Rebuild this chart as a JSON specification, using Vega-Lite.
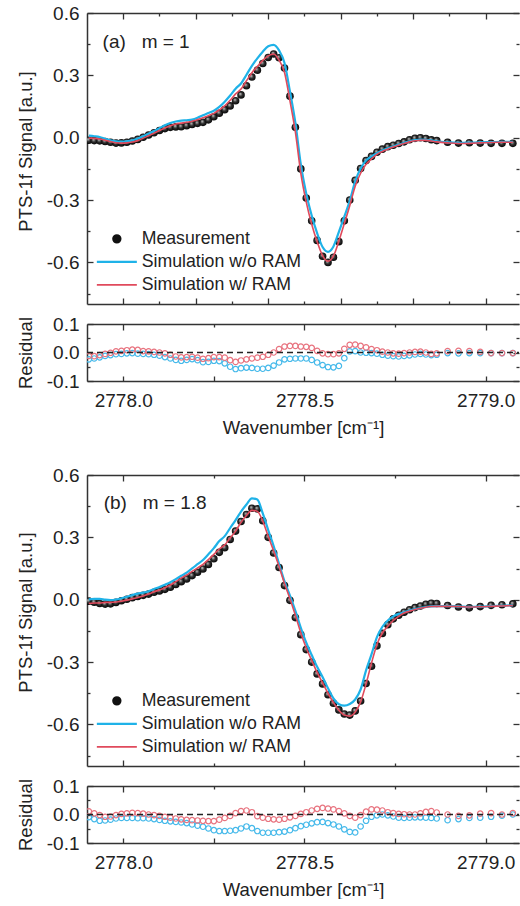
{
"$schema": "https://vega.github.io/schema/vega-lite/v6.json",
"padding": {"left": 16, "top": 4, "right": 0, "bottom": 0},
"config": {
 "view": {"stroke": null},
 "font": "Liberation Sans",
 "axis": {"labelFont": "Liberation Sans", "labelFontSize": 19, "labelColor": "#222222", "titleFont": "Liberation Sans", "titleFontSize": 18.5, "titleFontWeight": "normal", "titleColor": "#222222", "domainColor": "#333333", "domainWidth": 1.5, "tickColor": "#333333", "tickWidth": 1.3, "grid": false, "labelOverlap": false, "labelFlush": false, "labelBound": false},
 "axisX": {"labelPadding": 15, "titlePadding": 8, "labelFlush": false},
 "axisY": {"labelPadding": 14, "titlePadding": 11}
},
"datasets": {
"a": [
{"x":2777.905,"m":-0.012,"wo":0.010,"w":-0.002,"rwo":-0.024,"rw":-0.012},
{"x":2777.92,"m":-0.014,"wo":0.007,"w":-0.003,"rwo":-0.021,"rw":-0.013},
{"x":2777.935,"m":-0.015,"wo":0.003,"w":-0.006,"rwo":-0.017,"rw":-0.009},
{"x":2777.95,"m":-0.018,"wo":-0.005,"w":-0.012,"rwo":-0.012,"rw":-0.005},
{"x":2777.965,"m":-0.022,"wo":-0.012,"w":-0.018,"rwo":-0.009,"rw":-0.001},
{"x":2777.98,"m":-0.026,"wo":-0.018,"w":-0.024,"rwo":-0.006,"rw":0.004},
{"x":2777.995,"m":-0.025,"wo":-0.019,"w":-0.026,"rwo":-0.005,"rw":0.006},
{"x":2778.01,"m":-0.022,"wo":-0.017,"w":-0.025,"rwo":-0.003,"rw":0.008},
{"x":2778.025,"m":-0.016,"wo":-0.013,"w":-0.021,"rwo":-0.002,"rw":0.010},
{"x":2778.04,"m":-0.008,"wo":-0.004,"w":-0.014,"rwo":-0.004,"rw":0.009},
{"x":2778.055,"m":0.002,"wo":0.007,"w":-0.002,"rwo":-0.005,"rw":0.005},
{"x":2778.07,"m":0.013,"wo":0.019,"w":0.009,"rwo":-0.006,"rw":0.004},
{"x":2778.085,"m":0.024,"wo":0.032,"w":0.022,"rwo":-0.008,"rw":0.002},
{"x":2778.1,"m":0.035,"wo":0.046,"w":0.035,"rwo":-0.011,"rw":0.0},
{"x":2778.115,"m":0.044,"wo":0.06,"w":0.047,"rwo":-0.016,"rw":-0.003},
{"x":2778.13,"m":0.05,"wo":0.071,"w":0.058,"rwo":-0.021,"rw":-0.008},
{"x":2778.145,"m":0.052,"wo":0.078,"w":0.066,"rwo":-0.026,"rw":-0.014},
{"x":2778.16,"m":0.053,"wo":0.082,"w":0.07,"rwo":-0.029,"rw":-0.017},
{"x":2778.175,"m":0.058,"wo":0.084,"w":0.074,"rwo":-0.026,"rw":-0.016},
{"x":2778.19,"m":0.064,"wo":0.087,"w":0.079,"rwo":-0.023,"rw":-0.015},
{"x":2778.205,"m":0.069,"wo":0.096,"w":0.087,"rwo":-0.027,"rw":-0.018},
{"x":2778.22,"m":0.074,"wo":0.108,"w":0.096,"rwo":-0.034,"rw":-0.022},
{"x":2778.235,"m":0.086,"wo":0.119,"w":0.106,"rwo":-0.033,"rw":-0.02},
{"x":2778.25,"m":0.101,"wo":0.13,"w":0.117,"rwo":-0.029,"rw":-0.016},
{"x":2778.265,"m":0.118,"wo":0.148,"w":0.134,"rwo":-0.03,"rw":-0.016},
{"x":2778.28,"m":0.135,"wo":0.173,"w":0.153,"rwo":-0.038,"rw":-0.018},
{"x":2778.295,"m":0.153,"wo":0.203,"w":0.18,"rwo":-0.05,"rw":-0.027},
{"x":2778.31,"m":0.178,"wo":0.236,"w":0.211,"rwo":-0.058,"rw":-0.033},
{"x":2778.325,"m":0.206,"wo":0.261,"w":0.234,"rwo":-0.055,"rw":-0.028},
{"x":2778.34,"m":0.25,"wo":0.303,"w":0.274,"rwo":-0.053,"rw":-0.024},
{"x":2778.355,"m":0.292,"wo":0.346,"w":0.313,"rwo":-0.054,"rw":-0.021},
{"x":2778.37,"m":0.325,"wo":0.382,"w":0.343,"rwo":-0.057,"rw":-0.018},
{"x":2778.385,"m":0.357,"wo":0.414,"w":0.372,"rwo":-0.057,"rw":-0.015},
{"x":2778.4,"m":0.386,"wo":0.44,"w":0.394,"rwo":-0.054,"rw":-0.008},
{"x":2778.415,"m":0.403,"wo":0.447,"w":0.403,"rwo":-0.046,"rw":0.0},
{"x":2778.43,"m":0.385,"wo":0.42,"w":0.373,"rwo":-0.035,"rw":0.012},
{"x":2778.445,"m":0.335,"wo":0.359,"w":0.314,"rwo":-0.024,"rw":0.021},
{"x":2778.46,"m":0.2,"wo":0.222,"w":0.177,"rwo":-0.022,"rw":0.023},
{"x":2778.475,"m":0.05,"wo":0.071,"w":0.027,"rwo":-0.021,"rw":0.023},
{"x":2778.49,"m":-0.15,"wo":-0.129,"w":-0.171,"rwo":-0.021,"rw":0.021},
{"x":2778.505,"m":-0.29,"wo":-0.269,"w":-0.31,"rwo":-0.021,"rw":0.02},
{"x":2778.52,"m":-0.4,"wo":-0.374,"w":-0.416,"rwo":-0.026,"rw":0.016},
{"x":2778.535,"m":-0.494,"wo":-0.459,"w":-0.5,"rwo":-0.035,"rw":0.006},
{"x":2778.55,"m":-0.57,"wo":-0.526,"w":-0.567,"rwo":-0.044,"rw":-0.003},
{"x":2778.565,"m":-0.6,"wo":-0.549,"w":-0.594,"rwo":-0.051,"rw":-0.006},
{"x":2778.58,"m":-0.575,"wo":-0.523,"w":-0.569,"rwo":-0.052,"rw":-0.006},
{"x":2778.595,"m":-0.5,"wo":-0.453,"w":-0.497,"rwo":-0.047,"rw":-0.003},
{"x":2778.61,"m":-0.4,"wo":-0.38,"w":-0.413,"rwo":-0.02,"rw":0.013},
{"x":2778.625,"m":-0.3,"wo":-0.304,"w":-0.327,"rwo":0.004,"rw":0.027},
{"x":2778.64,"m":-0.205,"wo":-0.21,"w":-0.233,"rwo":0.005,"rw":0.028},
{"x":2778.655,"m":-0.148,"wo":-0.148,"w":-0.171,"rwo":0.0,"rw":0.023},
{"x":2778.67,"m":-0.11,"wo":-0.109,"w":-0.128,"rwo":-0.001,"rw":0.018},
{"x":2778.685,"m":-0.09,"wo":-0.09,"w":-0.102,"rwo":-0.002,"rw":0.012},
{"x":2778.7,"m":-0.07,"wo":-0.075,"w":-0.08,"rwo":-0.004,"rw":0.008},
{"x":2778.715,"m":-0.055,"wo":-0.062,"w":-0.066,"rwo":-0.008,"rw":0.003},
{"x":2778.73,"m":-0.043,"wo":-0.051,"w":-0.055,"rwo":-0.011,"rw":0.0},
{"x":2778.745,"m":-0.036,"wo":-0.042,"w":-0.045,"rwo":-0.013,"rw":-0.003},
{"x":2778.76,"m":-0.028,"wo":-0.033,"w":-0.036,"rwo":-0.014,"rw":-0.004},
{"x":2778.775,"m":-0.02,"wo":-0.025,"w":-0.028,"rwo":-0.012,"rw":-0.002},
{"x":2778.79,"m":-0.01,"wo":-0.017,"w":-0.02,"rwo":-0.01,"rw":0.0},
{"x":2778.805,"m":-0.003,"wo":-0.012,"w":-0.015,"rwo":-0.007,"rw":0.002},
{"x":2778.82,"m":0.0,"wo":-0.009,"w":-0.012,"rwo":-0.005,"rw":0.003},
{"x":2778.835,"m":-0.004,"wo":-0.01,"w":-0.013,"rwo":-0.007,"rw":0.0},
{"x":2778.85,"m":-0.01,"wo":-0.013,"w":-0.016,"rwo":-0.009,"rw":-0.005},
{"x":2778.865,"m":-0.014,"wo":-0.017,"w":-0.02,"rwo":-0.008,"rw":-0.003},
{"x":2778.895,"m":-0.022,"wo":-0.022,"w":-0.025,"rwo":-0.002,"rw":0.005},
{"x":2778.925,"m":-0.026,"wo":-0.025,"w":-0.028,"rwo":-0.003,"rw":0.006},
{"x":2778.955,"m":-0.024,"wo":-0.024,"w":-0.027,"rwo":-0.002,"rw":0.005},
{"x":2778.985,"m":-0.026,"wo":-0.022,"w":-0.025,"rwo":-0.002,"rw":0.002},
{"x":2779.015,"m":-0.027,"wo":-0.021,"w":-0.023,"rwo":-0.002,"rw":-0.002},
{"x":2779.045,"m":-0.027,"wo":-0.02,"w":-0.022,"rwo":-0.002,"rw":-0.002},
{"x":2779.075,"m":-0.027,"wo":-0.02,"w":-0.022,"rwo":-0.002,"rw":-0.002}
],
"b": [
{"x":2777.905,"m":-0.007,"wo":0.002,"w":-0.018,"rwo":-0.009,"rw":0.011},
{"x":2777.92,"m":-0.012,"wo":0.004,"w":-0.016,"rwo":-0.016,"rw":0.004},
{"x":2777.935,"m":-0.018,"wo":0.004,"w":-0.016,"rwo":-0.022,"rw":-0.002},
{"x":2777.95,"m":-0.021,"wo":0.0,"w":-0.013,"rwo":-0.021,"rw":-0.008},
{"x":2777.965,"m":-0.02,"wo":-0.002,"w":-0.013,"rwo":-0.018,"rw":-0.007},
{"x":2777.98,"m":-0.013,"wo":0.001,"w":-0.011,"rwo":-0.014,"rw":-0.002},
{"x":2777.995,"m":-0.005,"wo":0.007,"w":-0.007,"rwo":-0.012,"rw":0.002},
{"x":2778.01,"m":0.002,"wo":0.014,"w":-0.002,"rwo":-0.012,"rw":0.004},
{"x":2778.025,"m":0.01,"wo":0.022,"w":0.004,"rwo":-0.012,"rw":0.006},
{"x":2778.04,"m":0.016,"wo":0.029,"w":0.011,"rwo":-0.013,"rw":0.005},
{"x":2778.055,"m":0.021,"wo":0.034,"w":0.018,"rwo":-0.013,"rw":0.003},
{"x":2778.07,"m":0.027,"wo":0.041,"w":0.027,"rwo":-0.014,"rw":0.0},
{"x":2778.085,"m":0.036,"wo":0.052,"w":0.038,"rwo":-0.016,"rw":-0.002},
{"x":2778.1,"m":0.042,"wo":0.061,"w":0.047,"rwo":-0.019,"rw":-0.005},
{"x":2778.115,"m":0.05,"wo":0.072,"w":0.058,"rwo":-0.022,"rw":-0.008},
{"x":2778.13,"m":0.06,"wo":0.084,"w":0.071,"rwo":-0.024,"rw":-0.011},
{"x":2778.145,"m":0.073,"wo":0.099,"w":0.087,"rwo":-0.026,"rw":-0.014},
{"x":2778.16,"m":0.087,"wo":0.115,"w":0.104,"rwo":-0.028,"rw":-0.017},
{"x":2778.175,"m":0.1,"wo":0.13,"w":0.119,"rwo":-0.03,"rw":-0.019},
{"x":2778.19,"m":0.116,"wo":0.151,"w":0.136,"rwo":-0.035,"rw":-0.02},
{"x":2778.205,"m":0.132,"wo":0.171,"w":0.153,"rwo":-0.039,"rw":-0.021},
{"x":2778.22,"m":0.148,"wo":0.191,"w":0.17,"rwo":-0.043,"rw":-0.022},
{"x":2778.235,"m":0.17,"wo":0.219,"w":0.193,"rwo":-0.049,"rw":-0.023},
{"x":2778.25,"m":0.197,"wo":0.248,"w":0.218,"rwo":-0.055,"rw":-0.023},
{"x":2778.265,"m":0.228,"wo":0.282,"w":0.244,"rwo":-0.058,"rw":-0.018},
{"x":2778.28,"m":0.25,"wo":0.306,"w":0.264,"rwo":-0.058,"rw":-0.012},
{"x":2778.295,"m":0.29,"wo":0.345,"w":0.297,"rwo":-0.057,"rw":-0.005},
{"x":2778.31,"m":0.33,"wo":0.383,"w":0.33,"rwo":-0.055,"rw":0.005},
{"x":2778.325,"m":0.376,"wo":0.424,"w":0.372,"rwo":-0.049,"rw":0.012},
{"x":2778.34,"m":0.41,"wo":0.458,"w":0.405,"rwo":-0.042,"rw":0.014},
{"x":2778.355,"m":0.44,"wo":0.488,"w":0.43,"rwo":-0.048,"rw":0.008},
{"x":2778.37,"m":0.437,"wo":0.482,"w":0.425,"rwo":-0.058,"rw":-0.006},
{"x":2778.385,"m":0.38,"wo":0.415,"w":0.378,"rwo":-0.064,"rw":-0.011},
{"x":2778.4,"m":0.3,"wo":0.335,"w":0.305,"rwo":-0.064,"rw":-0.015},
{"x":2778.415,"m":0.225,"wo":0.258,"w":0.235,"rwo":-0.064,"rw":-0.017},
{"x":2778.43,"m":0.155,"wo":0.172,"w":0.16,"rwo":-0.062,"rw":-0.018},
{"x":2778.445,"m":0.068,"wo":0.088,"w":0.078,"rwo":-0.06,"rw":-0.015},
{"x":2778.46,"m":-0.003,"wo":0.02,"w":0.005,"rwo":-0.055,"rw":-0.01},
{"x":2778.475,"m":-0.086,"wo":-0.054,"w":-0.075,"rwo":-0.048,"rw":-0.005},
{"x":2778.49,"m":-0.168,"wo":-0.135,"w":-0.16,"rwo":-0.041,"rw":0.002},
{"x":2778.505,"m":-0.24,"wo":-0.207,"w":-0.232,"rwo":-0.036,"rw":0.008},
{"x":2778.52,"m":-0.3,"wo":-0.266,"w":-0.292,"rwo":-0.031,"rw":0.014},
{"x":2778.535,"m":-0.357,"wo":-0.323,"w":-0.35,"rwo":-0.027,"rw":0.02},
{"x":2778.55,"m":-0.405,"wo":-0.372,"w":-0.4,"rwo":-0.026,"rw":0.023},
{"x":2778.565,"m":-0.457,"wo":-0.426,"w":-0.45,"rwo":-0.03,"rw":0.021},
{"x":2778.58,"m":-0.498,"wo":-0.475,"w":-0.495,"rwo":-0.035,"rw":0.018},
{"x":2778.595,"m":-0.53,"wo":-0.503,"w":-0.532,"rwo":-0.042,"rw":0.012},
{"x":2778.61,"m":-0.55,"wo":-0.51,"w":-0.555,"rwo":-0.052,"rw":0.004},
{"x":2778.625,"m":-0.555,"wo":-0.502,"w":-0.56,"rwo":-0.061,"rw":-0.005},
{"x":2778.64,"m":-0.535,"wo":-0.48,"w":-0.54,"rwo":-0.063,"rw":-0.011},
{"x":2778.655,"m":-0.487,"wo":-0.432,"w":-0.492,"rwo":-0.042,"rw":-0.002},
{"x":2778.67,"m":-0.403,"wo":-0.34,"w":-0.405,"rwo":-0.022,"rw":0.01},
{"x":2778.685,"m":-0.32,"wo":-0.263,"w":-0.305,"rwo":-0.008,"rw":0.018},
{"x":2778.7,"m":-0.222,"wo":-0.18,"w":-0.215,"rwo":-0.003,"rw":0.017},
{"x":2778.715,"m":-0.162,"wo":-0.13,"w":-0.16,"rwo":0.0,"rw":0.014},
{"x":2778.73,"m":-0.12,"wo":-0.1,"w":-0.128,"rwo":-0.003,"rw":0.008},
{"x":2778.745,"m":-0.092,"wo":-0.08,"w":-0.1,"rwo":-0.007,"rw":0.005},
{"x":2778.76,"m":-0.075,"wo":-0.068,"w":-0.08,"rwo":-0.011,"rw":0.002},
{"x":2778.775,"m":-0.06,"wo":-0.06,"w":-0.064,"rwo":-0.012,"rw":0.001},
{"x":2778.79,"m":-0.048,"wo":-0.052,"w":-0.055,"rwo":-0.011,"rw":0.0},
{"x":2778.805,"m":-0.038,"wo":-0.045,"w":-0.047,"rwo":-0.01,"rw":0.0},
{"x":2778.82,"m":-0.03,"wo":-0.04,"w":-0.041,"rwo":-0.01,"rw":0.004},
{"x":2778.835,"m":-0.022,"wo":-0.035,"w":-0.036,"rwo":-0.011,"rw":0.009},
{"x":2778.85,"m":-0.017,"wo":-0.032,"w":-0.033,"rwo":-0.012,"rw":0.012},
{"x":2778.865,"m":-0.018,"wo":-0.031,"w":-0.032,"rwo":-0.014,"rw":0.007},
{"x":2778.895,"m":-0.028,"wo":-0.031,"w":-0.032,"rwo":-0.02,"rw":0.0},
{"x":2778.925,"m":-0.035,"wo":-0.032,"w":-0.033,"rwo":-0.016,"rw":-0.005},
{"x":2778.955,"m":-0.039,"wo":-0.034,"w":-0.035,"rwo":-0.012,"rw":-0.003},
{"x":2778.985,"m":-0.033,"wo":-0.033,"w":-0.034,"rwo":-0.011,"rw":0.003},
{"x":2779.015,"m":-0.027,"wo":-0.031,"w":-0.032,"rwo":-0.008,"rw":0.005},
{"x":2779.045,"m":-0.024,"wo":-0.029,"w":-0.03,"rwo":-0.004,"rw":0.0},
{"x":2779.075,"m":-0.02,"wo":-0.027,"w":-0.028,"rwo":0.0,"rw":0.005}
]
},
"spacing": 29,
"resolve": {"scale": {"color": "independent", "stroke": "independent"}, "legend": {"color": "independent"}},
"vconcat": [
{
 "spacing": 20, "bounds": "flush",
 "resolve": {"scale": {"color": "independent", "stroke": "independent"}, "legend": {"color": "independent"}},
 "vconcat": [
 {
  "width": 432, "height": 291,
  "data": {"name": "a"},
  "layer": [
   {"mark": {"type": "point", "filled": true, "size": 58, "opacity": 1, "strokeWidth": 0, "clip": true,
      "fill": {"gradient": "radial", "x1": 0.38, "y1": 0.35, "r1": 0, "x2": 0.5, "y2": 0.5, "r2": 0.55, "stops": [{"offset": 0, "color": "#d8d8d8"}, {"offset": 0.45, "color": "#333333"}, {"offset": 1, "color": "#000000"}]}},
    "encoding": {
     "x": {"field": "x", "type": "quantitative", "scale": {"domain": [2777.9, 2779.092], "nice": false, "zero": false},
       "axis": {"orient": "bottom", "values": [2778.0, 2778.1, 2778.2, 2778.3, 2778.4, 2778.5, 2778.6, 2778.7, 2778.8, 2778.9, 2779.0], "labels": false, "title": null, "tickSize": {"condition": {"test": "round(datum.value*10) % 2 == 0", "value": -6}, "value": -3}}},
     "y": {"field": "m", "type": "quantitative", "scale": {"domain": [-0.8, 0.6], "nice": false, "zero": false},
       "axis": {"orient": "left", "values": [-0.75, -0.6, -0.45, -0.3, -0.15, 0, 0.15, 0.3, 0.45, 0.6], "title": "PTS-1f Signal [a.u.]", "titleY": 138, "labelExpr": "round(datum.value/0.15) % 2 == 0 ? replace(format(datum.value, '.1f'), '\u2212', '-') : ''", "tickSize": {"condition": {"test": "round(datum.value/0.15) % 2 == 0", "value": -6}, "value": -3}}}
    }},
   {"transform": [{"fold": ["wo"], "as": ["series", "val"]}],
    "mark": {"type": "line", "strokeWidth": 2.2, "clip": true, "interpolate": "monotone"},
    "encoding": {
     "x": {"field": "x", "type": "quantitative",
       "axis": {"orient": "top", "values": [2778.0, 2778.1, 2778.2, 2778.3, 2778.4, 2778.5, 2778.6, 2778.7, 2778.8, 2778.9, 2779.0], "labels": false, "title": null, "tickSize": {"condition": {"test": "round(datum.value*10) % 2 == 0", "value": -6}, "value": -3}}},
     "y": {"field": "val", "type": "quantitative",
       "axis": {"orient": "right", "domain": false, "labels": false, "title": null, "values": [-0.75, -0.6, -0.45, -0.3, -0.15, 0, 0.15, 0.3, 0.45, 0.6], "tickSize": {"condition": {"test": "round(datum.value/0.15) % 2 == 0", "value": -6}, "value": -3}}},
     "color": {"field": "series", "type": "nominal",
       "scale": {"domain": ["meas", "wo", "w"], "range": ["#111111", "#1fb2e8", "#e04a5c"]},
       "legend": {"orient": "bottom-left", "offset": 10, "padding": 0, "title": null,
         "labelExpr": "datum.label == 'meas' ? 'Measurement' : datum.label == 'wo' ? 'Simulation w/o RAM' : 'Simulation w/ RAM'",
         "labelFont": "Liberation Sans", "labelFontSize": 17.7, "labelColor": "#222222", "labelOffset": 16, "labelLimit": 0, "symbolOffset": 11,
         "symbolType": "stroke", "symbolSize": 1600, "symbolStrokeWidth": 2, "rowPadding": 4,
         "encode": {"symbols": {"update": {
           "shape": {"signal": "datum.value === 'meas' ? 'circle' : 'stroke'"},
           "size": {"signal": "datum.value === 'meas' ? 60 : 1600"},
           "fill": {"signal": "datum.value === 'meas' ? '#111111' : 'transparent'"},
           "stroke": {"signal": "datum.value === 'meas' ? 'transparent' : (datum.value === 'wo' ? '#1fb2e8' : '#e04a5c')"},
           "strokeWidth": {"signal": "datum.value === 'wo' ? 2.2 : 1.6"}
         }}}}}
    }},
   {"transform": [{"fold": ["w"], "as": ["series", "val"]}],
    "mark": {"type": "line", "strokeWidth": 1.6, "clip": true, "interpolate": "monotone"},
    "encoding": {
     "x": {"field": "x", "type": "quantitative", "axis": null},
     "y": {"field": "val", "type": "quantitative", "axis": null},
     "color": {"field": "series", "type": "nominal"}
    }},
   {"data": {"values": [{}]},
    "mark": {"type": "text", "align": "left", "baseline": "middle", "font": "Liberation Sans", "fontSize": 19, "color": "#222222"},
    "encoding": {
     "x": {"datum": 2777.943, "type": "quantitative", "axis": null},
     "y": {"datum": 0.462, "type": "quantitative", "axis": null},
     "text": {"value": "(a)\u00a0\u00a0 m = 1"}
    }}
  ],
  "resolve": {"axis": {"x": "independent", "y": "independent"}}
 },
 {
  "width": 432, "height": 57,
  "data": {"name": "a"},
  "layer": [
   {"transform": [{"fold": ["rwo", "rw"], "as": ["series", "val"]}],
    "mark": {"type": "point", "filled": false, "size": 30, "strokeWidth": 1.2, "opacity": 1, "clip": true},
    "encoding": {
     "x": {"field": "x", "type": "quantitative", "scale": {"domain": [2777.9, 2779.092], "nice": false, "zero": false},
       "axis": {"orient": "bottom", "values": [2778.0, 2778.25, 2778.5, 2778.75, 2779.0], "title": "Wavenumber [cm\u207b\u00b9]", "tickSize": -5, "labelFlush": false, "labelExpr": "round(datum.value*4) % 2 == 0 ? format(datum.value, '.1f') : ''"}},
     "y": {"field": "val", "type": "quantitative", "scale": {"domain": [-0.1, 0.1], "nice": false, "zero": false},
       "axis": {"orient": "left", "values": [-0.1, -0.05, 0, 0.05, 0.1], "title": "Residual", "labelExpr": "round(datum.value/0.05) % 2 == 0 ? replace(format(datum.value, '.1f'), '\u2212', '-') : ''", "tickSize": {"condition": {"test": "round(datum.value/0.05) % 2 == 0", "value": -6}, "value": -3}}},
     "stroke": {"field": "series", "type": "nominal", "scale": {"domain": ["rwo", "rw"], "range": ["#45b9ea", "#e8737f"]}, "legend": null},
     "order": {"field": "series", "sort": "descending"}
    }},
   {"data": {"values": [{}]},
    "mark": {"type": "rule", "strokeDash": [6, 4], "color": "#222222", "strokeWidth": 1.3},
    "encoding": {
     "x": {"datum": 2777.9, "type": "quantitative",
       "axis": {"orient": "top", "values": [2778.0, 2778.25, 2778.5, 2778.75, 2779.0], "labels": false, "title": null, "tickSize": {"condition": {"test": "round(datum.value*4) % 2 == 0", "value": -6}, "value": -3}}},
     "x2": {"datum": 2779.092},
     "y": {"datum": 0, "type": "quantitative",
       "axis": {"orient": "right", "domain": false, "labels": false, "title": null, "values": [-0.1, -0.05, 0, 0.05, 0.1], "tickSize": {"condition": {"test": "round(datum.value/0.05) % 2 == 0", "value": -6}, "value": -3}}}
    }}
  ],
  "resolve": {"axis": {"x": "independent", "y": "independent"}}
 }
 ]
},
{
 "spacing": 20, "bounds": "flush",
 "resolve": {"scale": {"color": "independent", "stroke": "independent"}, "legend": {"color": "independent"}},
 "vconcat": [
 {
  "width": 432, "height": 291,
  "data": {"name": "b"},
  "layer": [
   {"mark": {"type": "point", "filled": true, "size": 58, "opacity": 1, "strokeWidth": 0, "clip": true,
      "fill": {"gradient": "radial", "x1": 0.38, "y1": 0.35, "r1": 0, "x2": 0.5, "y2": 0.5, "r2": 0.55, "stops": [{"offset": 0, "color": "#d8d8d8"}, {"offset": 0.45, "color": "#333333"}, {"offset": 1, "color": "#000000"}]}},
    "encoding": {
     "x": {"field": "x", "type": "quantitative", "scale": {"domain": [2777.9, 2779.092], "nice": false, "zero": false},
       "axis": {"orient": "bottom", "values": [2778.0, 2778.25, 2778.5, 2778.75, 2779.0], "labels": false, "title": null, "tickSize": {"condition": {"test": "round(datum.value*4) % 2 == 0", "value": -6}, "value": -3}}},
     "y": {"field": "m", "type": "quantitative", "scale": {"domain": [-0.8, 0.6], "nice": false, "zero": false},
       "axis": {"orient": "left", "values": [-0.75, -0.6, -0.45, -0.3, -0.15, 0, 0.15, 0.3, 0.45, 0.6], "title": "PTS-1f Signal [a.u.]", "titleY": 137, "labelExpr": "round(datum.value/0.15) % 2 == 0 ? replace(format(datum.value, '.1f'), '\u2212', '-') : ''", "tickSize": {"condition": {"test": "round(datum.value/0.15) % 2 == 0", "value": -6}, "value": -3}}}
    }},
   {"transform": [{"fold": ["wo"], "as": ["series", "val"]}],
    "mark": {"type": "line", "strokeWidth": 2.2, "clip": true, "interpolate": "monotone"},
    "encoding": {
     "x": {"field": "x", "type": "quantitative",
       "axis": {"orient": "top", "values": [2778.0, 2778.25, 2778.5, 2778.75, 2779.0], "labels": false, "title": null, "tickSize": {"condition": {"test": "round(datum.value*4) % 2 == 0", "value": -6}, "value": -3}}},
     "y": {"field": "val", "type": "quantitative",
       "axis": {"orient": "right", "domain": false, "labels": false, "title": null, "values": [-0.75, -0.6, -0.45, -0.3, -0.15, 0, 0.15, 0.3, 0.45, 0.6], "tickSize": {"condition": {"test": "round(datum.value/0.15) % 2 == 0", "value": -6}, "value": -3}}},
     "color": {"field": "series", "type": "nominal",
       "scale": {"domain": ["meas", "wo", "w"], "range": ["#111111", "#1fb2e8", "#e04a5c"]},
       "legend": {"orient": "bottom-left", "offset": 10, "padding": 0, "title": null,
         "labelExpr": "datum.label == 'meas' ? 'Measurement' : datum.label == 'wo' ? 'Simulation w/o RAM' : 'Simulation w/ RAM'",
         "labelFont": "Liberation Sans", "labelFontSize": 17.7, "labelColor": "#222222", "labelOffset": 16, "labelLimit": 0, "symbolOffset": 11,
         "symbolType": "stroke", "symbolSize": 1600, "symbolStrokeWidth": 2, "rowPadding": 4,
         "encode": {"symbols": {"update": {
           "shape": {"signal": "datum.value === 'meas' ? 'circle' : 'stroke'"},
           "size": {"signal": "datum.value === 'meas' ? 60 : 1600"},
           "fill": {"signal": "datum.value === 'meas' ? '#111111' : 'transparent'"},
           "stroke": {"signal": "datum.value === 'meas' ? 'transparent' : (datum.value === 'wo' ? '#1fb2e8' : '#e04a5c')"},
           "strokeWidth": {"signal": "datum.value === 'wo' ? 2.2 : 1.6"}
         }}}}}
    }},
   {"transform": [{"fold": ["w"], "as": ["series", "val"]}],
    "mark": {"type": "line", "strokeWidth": 1.6, "clip": true, "interpolate": "monotone"},
    "encoding": {
     "x": {"field": "x", "type": "quantitative", "axis": null},
     "y": {"field": "val", "type": "quantitative", "axis": null},
     "color": {"field": "series", "type": "nominal"}
    }},
   {"data": {"values": [{}]},
    "mark": {"type": "text", "align": "left", "baseline": "middle", "font": "Liberation Sans", "fontSize": 19, "color": "#222222"},
    "encoding": {
     "x": {"datum": 2777.946, "type": "quantitative", "axis": null},
     "y": {"datum": 0.465, "type": "quantitative", "axis": null},
     "text": {"value": "(b)\u00a0\u00a0 m = 1.8"}
    }}
  ],
  "resolve": {"axis": {"x": "independent", "y": "independent"}}
 },
 {
  "width": 432, "height": 57,
  "data": {"name": "b"},
  "layer": [
   {"transform": [{"fold": ["rwo", "rw"], "as": ["series", "val"]}],
    "mark": {"type": "point", "filled": false, "size": 30, "strokeWidth": 1.2, "opacity": 1, "clip": true},
    "encoding": {
     "x": {"field": "x", "type": "quantitative", "scale": {"domain": [2777.9, 2779.092], "nice": false, "zero": false},
       "axis": {"orient": "bottom", "values": [2778.0, 2778.25, 2778.5, 2778.75, 2779.0], "title": "Wavenumber [cm\u207b\u00b9]", "tickSize": -5, "labelFlush": false, "labelExpr": "round(datum.value*4) % 2 == 0 ? format(datum.value, '.1f') : ''"}},
     "y": {"field": "val", "type": "quantitative", "scale": {"domain": [-0.1, 0.1], "nice": false, "zero": false},
       "axis": {"orient": "left", "values": [-0.1, -0.05, 0, 0.05, 0.1], "title": "Residual", "labelExpr": "round(datum.value/0.05) % 2 == 0 ? replace(format(datum.value, '.1f'), '\u2212', '-') : ''", "tickSize": {"condition": {"test": "round(datum.value/0.05) % 2 == 0", "value": -6}, "value": -3}}},
     "stroke": {"field": "series", "type": "nominal", "scale": {"domain": ["rwo", "rw"], "range": ["#45b9ea", "#e8737f"]}, "legend": null},
     "order": {"field": "series", "sort": "descending"}
    }},
   {"data": {"values": [{}]},
    "mark": {"type": "rule", "strokeDash": [6, 4], "color": "#222222", "strokeWidth": 1.3},
    "encoding": {
     "x": {"datum": 2777.9, "type": "quantitative",
       "axis": {"orient": "top", "values": [2778.0, 2778.25, 2778.5, 2778.75, 2779.0], "labels": false, "title": null, "tickSize": {"condition": {"test": "round(datum.value*4) % 2 == 0", "value": -6}, "value": -3}}},
     "x2": {"datum": 2779.092},
     "y": {"datum": 0, "type": "quantitative",
       "axis": {"orient": "right", "domain": false, "labels": false, "title": null, "values": [-0.1, -0.05, 0, 0.05, 0.1], "tickSize": {"condition": {"test": "round(datum.value/0.05) % 2 == 0", "value": -6}, "value": -3}}}
    }}
  ],
  "resolve": {"axis": {"x": "independent", "y": "independent"}}
 }
 ]
}
]
}
